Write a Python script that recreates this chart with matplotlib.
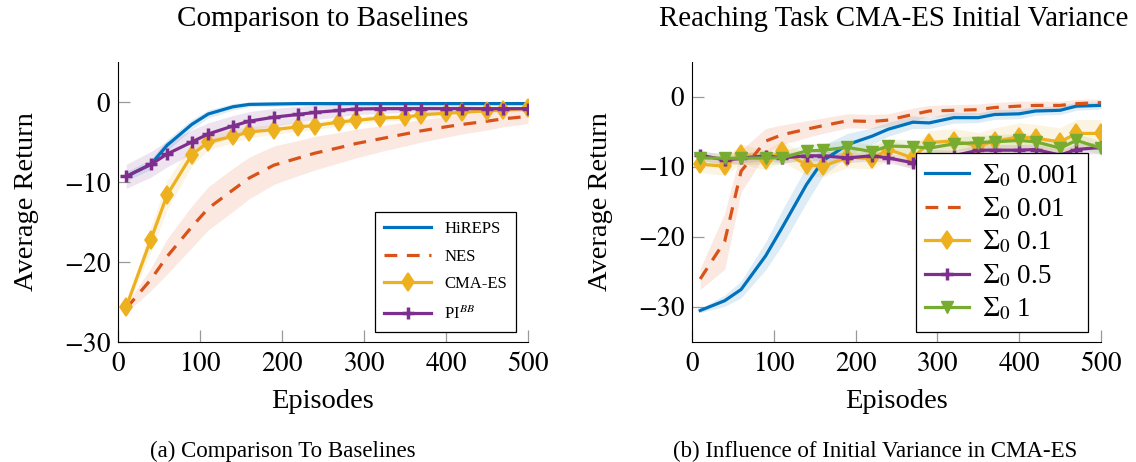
import matplotlib.pyplot as plt
import numpy as np
from matplotlib.ticker import FuncFormatter

# episodes at which the runs were evaluated
episodes = [10, 40, 60, 90, 110, 140, 160, 190, 220, 240,
            270, 290, 320, 350, 370, 400, 420, 450, 470, 500]

# ---- (a) comparison to baselines ----
hireps = [-9.3, -7.8, -5.4, -2.8, -1.5, -0.6, -0.3, -0.25, -0.2, -0.2,
          -0.2, -0.2, -0.2, -0.2, -0.2, -0.2, -0.2, -0.2, -0.2, -0.2]
hireps_std = [0.6, 0.6, 0.7, 0.6, 0.5, 0.4, 0.3, 0.3, 0.2, 0.2,
              0.2, 0.2, 0.2, 0.2, 0.2, 0.2, 0.2, 0.2, 0.2, 0.2]
nes = [-25.8, -22.2, -19.3, -15.6, -13.3, -11.0, -9.5, -7.9, -7.0, -6.4,
       -5.7, -5.2, -4.6, -4.0, -3.6, -3.1, -2.8, -2.4, -2.1, -1.8]
nes_std = [0.5, 1.4, 2.2, 2.6, 2.7, 2.7, 2.6, 2.4, 2.2, 2.1,
           1.9, 1.8, 1.6, 1.5, 1.4, 1.3, 1.2, 1.1, 1.0, 0.9]
cmaes = [-25.6, -17.2, -11.6, -6.6, -5.0, -4.3, -3.75, -3.45, -3.1, -2.95,
         -2.5, -2.3, -2.0, -1.9, -1.6, -1.4, -1.3, -1.1, -1.0, -0.8]
cmaes_std = [0.3, 1.6, 1.8, 1.4, 1.0, 0.8, 0.7, 0.6, 0.6, 0.5,
             0.5, 0.5, 0.4, 0.4, 0.4, 0.4, 0.3, 0.3, 0.3, 0.3]
pibb = [-9.3, -7.8, -6.5, -5.0, -4.0, -3.0, -2.4, -1.9, -1.55, -1.3,
        -1.05, -0.87, -0.83, -0.83, -0.83, -0.83, -0.83, -0.83, -0.83, -0.83]
pibb_std = [1.5, 1.6, 1.6, 1.5, 1.4, 1.3, 1.2, 1.1, 1.0, 0.9,
            0.8, 0.7, 0.6, 0.5, 0.5, 0.4, 0.4, 0.3, 0.3, 0.3]

# ---- (b) initial variance of CMA-ES ----
var_labels = [r'$\Sigma_0$ 0.001', r'$\Sigma_0$ 0.01', r'$\Sigma_0$ 0.1',
              r'$\Sigma_0$ 0.5', r'$\Sigma_0$ 1']
var_0001 = [-30.5, -29.1, -27.5, -22.7, -18.7, -12.5, -9.1, -6.8, -5.6, -4.6,
            -3.6, -3.7, -2.95, -2.95, -2.5, -2.4, -2.0, -1.9, -1.3, -1.2]
var_0001_std = [0.3, 0.8, 1.2, 2.0, 2.5, 2.6, 2.2, 1.6, 1.2, 1.0,
                0.9, 0.8, 0.8, 0.7, 0.7, 0.7, 0.6, 0.6, 0.6, 0.5]
var_001 = [-26.0, -20.6, -10.6, -6.3, -5.4, -4.6, -4.1, -3.4, -3.5, -3.3,
           -2.5, -2.0, -1.9, -1.8, -1.5, -1.3, -1.2, -1.2, -0.95, -0.8]
var_001_std = [1.5, 4.0, 3.0, 1.8, 1.4, 1.2, 1.1, 1.0, 1.0, 0.9,
               0.9, 0.8, 0.8, 0.8, 0.7, 0.7, 0.6, 0.6, 0.6, 0.5]
var_01 = [-9.6, -9.9, -8.1, -9.05, -7.7, -9.7, -9.9, -8.6, -8.8, -7.5,
          -8.7, -6.5, -6.3, -7.0, -6.3, -5.7, -5.9, -6.4, -5.2, -5.2]
var_01_std = [1.2, 1.3, 1.4, 1.4, 1.5, 1.5, 1.5, 1.5, 1.5, 1.5,
              1.6, 1.7, 1.8, 1.9, 1.9, 2.0, 2.0, 2.0, 2.0, 2.0]
var_05 = [-8.3, -9.0, -8.75, -8.4, -8.7, -8.4, -8.4, -8.7, -8.4, -8.7,
          -9.4, -8.3, -8.4, -7.6, -7.6, -7.6, -7.5, -8.3, -7.5, -7.2]
var_05_std = [0.7, 0.7, 0.7, 0.7, 0.7, 0.7, 0.7, 0.7, 0.7, 0.7,
              0.8, 0.8, 0.8, 0.8, 0.8, 0.8, 0.8, 0.8, 0.8, 0.8]
var_1 = [-8.7, -8.75, -8.75, -8.7, -8.7, -7.7, -7.6, -7.2, -7.8, -7.0,
         -7.1, -7.3, -6.7, -6.5, -6.4, -6.2, -6.4, -7.3, -6.2, -7.3]
var_1_std = [0.8, 0.8, 0.9, 0.9, 0.9, 1.0, 1.0, 1.0, 1.0, 1.0,
             1.0, 1.0, 1.0, 1.0, 1.0, 1.0, 1.0, 1.0, 1.0, 1.0]

BLUE = '#0072BD'
ORANGE = '#D95319'
YELLOW = '#EDB120'
PURPLE = '#7E2F8E'
GREEN = '#77AC30'

plt.rcParams['font.family'] = 'Liberation Serif'
plt.rcParams['mathtext.fontset'] = 'stix'
FS = 20.5   # axis labels
TFS = 19.5  # tick labels

fig = plt.figure(figsize=(11.36, 4.62), dpi=100)
ax1 = fig.add_axes([118 / 1136, 120 / 462, 410 / 1136, 280 / 462])
ax2 = fig.add_axes([692 / 1136, 120 / 462, 409 / 1136, 280 / 462])

x = np.array(episodes)


def band(ax, y, s, color):
    y = np.array(y)
    s = np.array(s)
    ax.fill_between(x, y - s, y + s, color=color, alpha=0.13, lw=0)


lw = 2.3
dia = dict(marker='d', ms=9.5, mew=1.2)
plus = dict(marker='+', ms=8.5, mew=2.5)
tri = dict(marker='v', ms=8.5)

# left panel
band(ax1, hireps, hireps_std, BLUE)
band(ax1, nes, nes_std, ORANGE)
band(ax1, cmaes, cmaes_std, YELLOW)
band(ax1, pibb, pibb_std, PURPLE)
ax1.plot(x, hireps, color=BLUE, lw=lw, label='HiREPS')
ax1.plot(x, nes, color=ORANGE, lw=lw, dashes=(4, 3), label='NES')
ax1.plot(x, cmaes, color=YELLOW, lw=lw, label='CMA-ES', **dia)
ax1.plot(x, pibb, color=PURPLE, lw=lw, label=r'PI$^{BB}$', **plus)

# right panel
band(ax2, var_0001, var_0001_std, BLUE)
band(ax2, var_001, var_001_std, ORANGE)
band(ax2, var_01, var_01_std, YELLOW)
band(ax2, var_05, var_05_std, PURPLE)
band(ax2, var_1, var_1_std, GREEN)
ax2.plot(x, var_0001, color=BLUE, lw=lw, label=var_labels[0])
ax2.plot(x, var_001, color=ORANGE, lw=lw, dashes=(4, 3), label=var_labels[1])
ax2.plot(x, var_01, color=YELLOW, lw=lw, label=var_labels[2], **dia)
ax2.plot(x, var_05, color=PURPLE, lw=lw, label=var_labels[3], **plus)
ax2.plot(x, var_1, color=GREEN, lw=lw, label=var_labels[4], **tri)

mathfmt = FuncFormatter(lambda v, p: f'${v:g}$')
for ax, ylim in [(ax1, (-30, 5)), (ax2, (-35, 5))]:
    ax.set_xlim(0, 500)
    ax.set_ylim(*ylim)
    ax.set_xticks([0, 100, 200, 300, 400, 500])
    ax.set_yticks([-30, -20, -10, 0])
    ax.xaxis.set_major_formatter(mathfmt)
    ax.yaxis.set_major_formatter(mathfmt)
    ax.spines['top'].set_visible(False)
    ax.spines['right'].set_visible(False)
    ax.tick_params(direction='in', length=8.5, width=0.9, color='0.6',
                   labelsize=TFS, pad=5)
    ax.tick_params(axis='x', pad=7)
    ax.set_xlabel('Episodes', fontsize=FS, labelpad=9)
    ax.set_ylabel('Average Return', fontsize=FS, labelpad=18)

leg1 = ax1.legend(loc='lower right', bbox_to_anchor=(0.971, 0.036),
                  borderaxespad=0, fontsize=12, handlelength=2.8,
                  labelspacing=0.7, fancybox=False, edgecolor='black',
                  framealpha=1, numpoints=1, borderpad=0.55)
leg1.get_frame().set_linewidth(0.9)
leg2 = ax2.legend(loc='lower right', bbox_to_anchor=(0.968, 0.036),
                  borderaxespad=0, fontsize=19.5, handlelength=1.6,
                  labelspacing=0.25, handletextpad=0.5, fancybox=False,
                  edgecolor='black', framealpha=1, numpoints=1,
                  borderpad=0.35)
leg2.get_frame().set_linewidth(0.9)

fig.text(323 / 1136, 1 - 19 / 462, 'Comparison to Baselines', fontsize=21,
         ha='center', va='center')
fig.text(894 / 1136, 1 - 19 / 462, 'Reaching Task CMA-ES Initial Variance',
         fontsize=20.8, ha='center', va='center')
fig.text(283 / 1136, 1 - 451 / 462, '(a) Comparison To Baselines',
         fontsize=16.5, ha='center', va='center')
fig.text(875 / 1136, 1 - 451 / 462, '(b) Influence of Initial Variance in CMA-ES',
         fontsize=16.5, ha='center', va='center')

fig.savefig('out.png', dpi=100)
